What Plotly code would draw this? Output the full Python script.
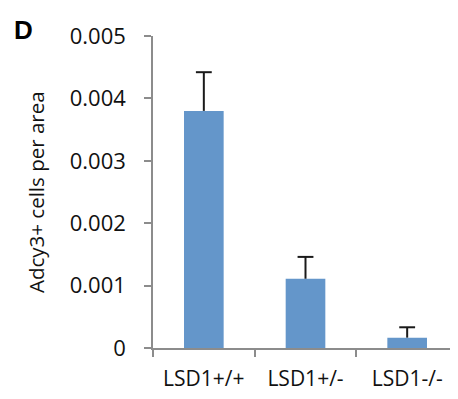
import plotly.graph_objects as go

categories = ["LSD1+/+", "LSD1+/-", "LSD1-/-"]
values = [0.0038, 0.00111, 0.000166]
errors = [0.00062, 0.00035, 0.000166]
y_ticks = [0, 0.001, 0.002, 0.003, 0.004, 0.005]
y_tick_labels = ["0", "0.001", "0.002", "0.003", "0.004", "0.005"]
y_title = "Adcy3+ cells per area"
panel_label = "D"

# page has an 8px body margin, so the figure is 8px smaller than the window
W, H = 450, 391
L, R, T, B = 145, 0, 28, 51
pw, ph = W - L - R, H - T - B

FONT = "Open Sans"
TXT = "#111111"
AX = "#8c8c8c"

tops = [v + e for v, e in zip(values, errors)]
positions = list(range(len(categories)))

fig = go.Figure()
fig.add_trace(go.Bar(
    x=categories, y=values, width=0.39,
    marker=dict(color="#6496CA", line=dict(width=0)),
    error_y=dict(type="data", symmetric=False, array=errors,
                 arrayminus=[0, 0, 0], color="#1a1a1a", thickness=2, width=0),
))
# caps at the top of each error bar (numeric overlay axis)
fig.add_trace(go.Scatter(
    x=positions, y=tops, mode="markers", xaxis="x2",
    marker=dict(size=1, color="rgba(0,0,0,0)"),
    error_x=dict(type="constant", value=0.078, color="#1a1a1a", thickness=2, width=0),
    hoverinfo="skip",
))

fig.update_layout(
    width=W, height=H,
    margin=dict(l=L, r=R, t=T, b=B, autoexpand=False),
    paper_bgcolor="white", plot_bgcolor="white",
    showlegend=False,
    font=dict(family=FONT, color=TXT, size=21),
    xaxis=dict(
        type="category", range=[-0.5, 2.5], tickson="boundaries",
        ticks="outside", ticklen=7, tickwidth=1.5, tickcolor=AX,
        showline=True, linecolor=AX, linewidth=1.5,
        showgrid=False, zeroline=False, automargin=False,
        tickfont=dict(family=FONT, size=21, color=TXT),
        ticklabelstandoff=11,
    ),
    xaxis2=dict(
        overlaying="x", range=[-0.5, 2.5], visible=False, showgrid=False, zeroline=False,
    ),
    yaxis=dict(
        range=[0, 0.005], tickmode="array", tickvals=y_ticks, ticktext=y_tick_labels,
        ticks="outside", ticklen=7, tickwidth=1.5, tickcolor=AX,
        showline=True, linecolor=AX, linewidth=1.5,
        showgrid=False, zeroline=False, automargin=False,
        tickfont=dict(family=FONT, size=22, color=TXT),
        ticklabelstandoff=14,
    ),
    annotations=[
        dict(text="<b>%s</b>" % panel_label, xref="paper", yref="paper",
             x=(4 - L) / pw, y=(H - B - 5) / ph, xanchor="left", yanchor="top",
             showarrow=False, font=dict(family="Liberation Sans", size=26, color="#000000")),
        dict(text=y_title, xref="paper", yref="paper",
             x=(28 - L) / pw, y=0.5, xanchor="center", yanchor="middle", textangle=-90,
             showarrow=False, font=dict(family=FONT, size=20.5, color=TXT)),
    ],
)

fig.write_html("out.html")
